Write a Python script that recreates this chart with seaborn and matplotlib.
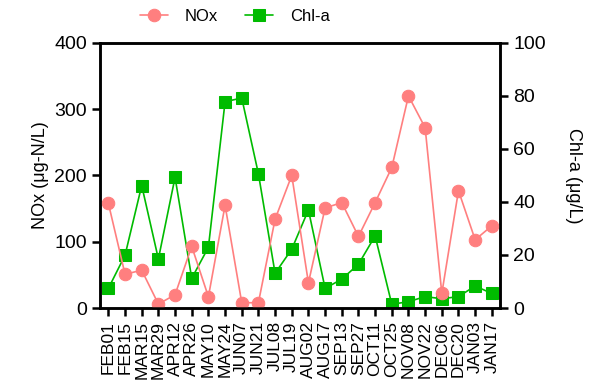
import numpy as np
import pandas as pd
import seaborn as sns
import matplotlib.pyplot as plt

dates = ['FEB01', 'FEB15', 'MAR15', 'MAR29', 'APR12', 'APR26', 'MAY10', 'MAY24',
         'JUN07', 'JUN21', 'JUL08', 'JUL19', 'AUG02', 'AUG17', 'SEP13', 'SEP27',
         'OCT11', 'OCT25', 'NOV08', 'NOV22', 'DEC06', 'DEC20', 'JAN03', 'JAN17']
nox = [158, 51, 57, 6, 20, 93, 17, 155, 8, 8, 134, 200, 38, 151, 159, 108,
       159, 212, 320, 272, 22, 177, 103, 124]
chla = [7.4, 19.9, 46.2, 18.5, 49.3, 11.2, 22.9, 77.8, 79.2, 50.6, 13.1, 22.2,
        37.0, 7.4, 10.9, 16.5, 27.2, 1.4, 2.4, 4.3, 3.5, 4.3, 8.3, 5.5]

df = pd.DataFrame({'pos': np.arange(len(dates)), 'date': dates, 'NOx': nox, 'Chl-a': chla})

sns.set_style('ticks')
plt.rcParams['font.family'] = ['Liberation Sans', 'DejaVu Sans']
plt.rcParams['text.color'] = 'black'
plt.rcParams['axes.labelcolor'] = 'black'
plt.rcParams['xtick.color'] = 'black'
plt.rcParams['ytick.color'] = 'black'

fig = plt.figure(figsize=(5.99, 3.86), dpi=100)
ax = fig.add_axes([0.167, 0.202, 0.668, 0.687])
ax2 = ax.twinx()

red = '#FF7F7F'
green = '#00BB00'
sns.lineplot(data=df, x='pos', y='NOx', ax=ax, color=red, marker='o', markersize=9,
             markeredgecolor=red, linewidth=1.2, label='NOx', legend=False)
sns.lineplot(data=df, x='pos', y='Chl-a', ax=ax2, color=green, marker='s', markersize=9,
             markeredgecolor=green, linewidth=1.2, label='Chl-a', legend=False)

ax.set_xlim(-0.5, len(dates) - 0.5)
ax.set_ylim(0, 400)
ax2.set_ylim(0, 100)
ax.set_yticks([0, 100, 200, 300, 400])
ax2.set_yticks([0, 20, 40, 60, 80, 100])
ax.set_xticks(df['pos'])
ax.set_xticklabels(dates, rotation=90, fontsize=12.5)
ax.tick_params(axis='y', labelsize=14, width=1.8, length=6)
ax2.tick_params(axis='y', labelsize=14, width=1.8, length=6)
ax.tick_params(axis='x', width=1.8, length=6)
ax.set_xlabel('')
ax.set_ylabel('NOx (μg-N/L)', fontsize=13)
ax2.set_ylabel('Chl-a (μg/L)', fontsize=13, rotation=270, labelpad=26)

for a in (ax, ax2):
    for s in a.spines.values():
        s.set_linewidth(1.8)
        s.set_color('black')
ax.set_zorder(ax2.get_zorder() + 1)
ax.patch.set_visible(False)

h1, l1 = ax.get_legend_handles_labels()
h2, l2 = ax2.get_legend_handles_labels()
fig.legend(h1 + h2, l1 + l2, loc='upper center', bbox_to_anchor=(0.392, 1.015), ncol=2,
           frameon=False, fontsize=12, handlelength=1.7, handletextpad=1.0,
           columnspacing=1.6)

fig.savefig('out.png', dpi=100)
